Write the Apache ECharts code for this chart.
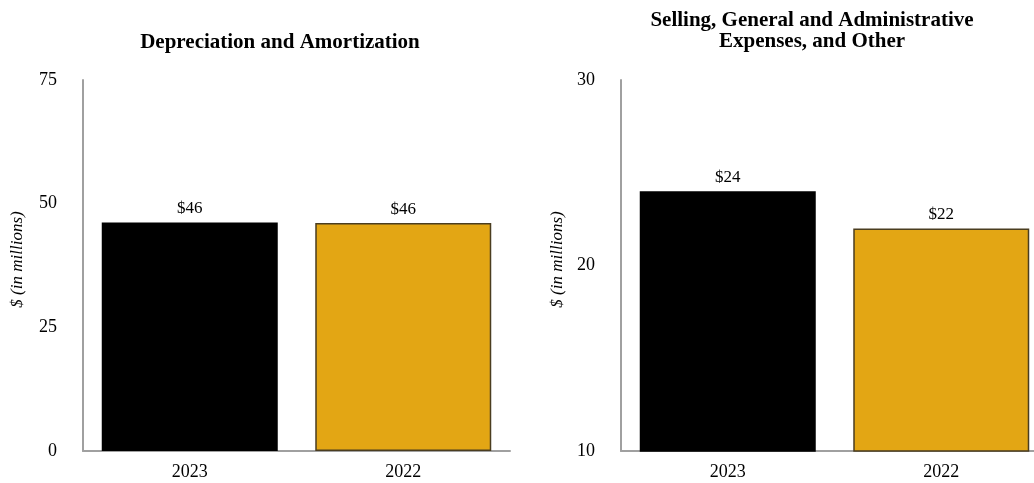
<!DOCTYPE html>
<html><head><meta charset="utf-8">
<script src="https://cdn.jsdelivr.net/npm/echarts@6/dist/echarts.min.js"></script>
<style>html,body{margin:0;padding:0;background:#fff;overflow:hidden;width:1034px;height:483px}#c{width:1060px;height:483px}</style>
</head><body><div id="c"></div>
<script>
const categories = ['2023', '2022'];
const daValues = [46.2, 46.1];
const sgaValues = [24.0, 22.0];
const daTicks = { min: 0, max: 75, interval: 25 };
const sgaTicks = { min: 10, max: 30, interval: 10 };
const daTitle = 'Depreciation and Amortization';
const sgaTitle = 'Selling, General and Administrative\nExpenses, and Other';
const yName = '$ (in millions)';

const font = 'Liberation Serif';
const axisColor = '#a0a0a0';
const barColors = ['#000000', '#E3A614'];
const borderColors = ['#000000', '#4a3d20'];

function yAxis(idx, t, gap) {
  return {
    type: 'value', gridIndex: idx, min: t.min, max: t.max, interval: t.interval,
    name: yName, nameLocation: 'middle', nameGap: gap,
    nameTextStyle: { fontFamily: font, fontStyle: 'italic', fontSize: 17, color: '#000', padding: [0, 0, 0, 12] },
    axisLine: { show: true, lineStyle: { color: axisColor, width: 2 } },
    axisTick: { show: false }, splitLine: { show: false },
    axisLabel: { fontFamily: font, fontSize: 18, color: '#000', margin: 26 }
  };
}
function xAxis(idx) {
  return {
    type: 'category', gridIndex: idx, data: categories,
    axisLine: { show: true, lineStyle: { color: axisColor, width: 2 } },
    axisTick: { show: false },
    axisLabel: { fontFamily: font, fontSize: 18, color: '#000', margin: 12 }
  };
}
function series(idx, vals) {
  return {
    type: 'bar', xAxisIndex: idx, yAxisIndex: idx, barWidth: 176,
    data: vals.map((v, i) => ({ value: v, itemStyle: { color: barColors[i], borderColor: borderColors[i], borderWidth: 1.5 } })),
    label: { show: true, position: 'top', distance: 5, fontFamily: font, fontSize: 17, color: '#000',
      formatter: p => '$' + Math.round(p.value) }
  };
}

const chart = echarts.init(document.getElementById('c'), null, { renderer: 'canvas' });
chart.setOption({
  animation: false,
  title: [
    { text: daTitle, left: 275, top: 27, textAlign: 'center',
      textStyle: { fontFamily: font, fontWeight: 'bold', fontSize: 21, color: '#000' } },
    { text: sgaTitle, left: 807, top: 5, textAlign: 'center',
      textStyle: { fontFamily: font, fontWeight: 'bold', fontSize: 21, color: '#000', lineHeight: 21 } }
  ],
  grid: [
    { left: 83, top: 80, width: 427, height: 371 },
    { left: 621, top: 80, width: 427, height: 371 }
  ],
  xAxis: [xAxis(0), xAxis(1)],
  yAxis: [yAxis(0, daTicks, 57), yAxis(1, sgaTicks, 55)],
  series: [series(0, daValues), series(1, sgaValues)]
});
</script></body></html>
